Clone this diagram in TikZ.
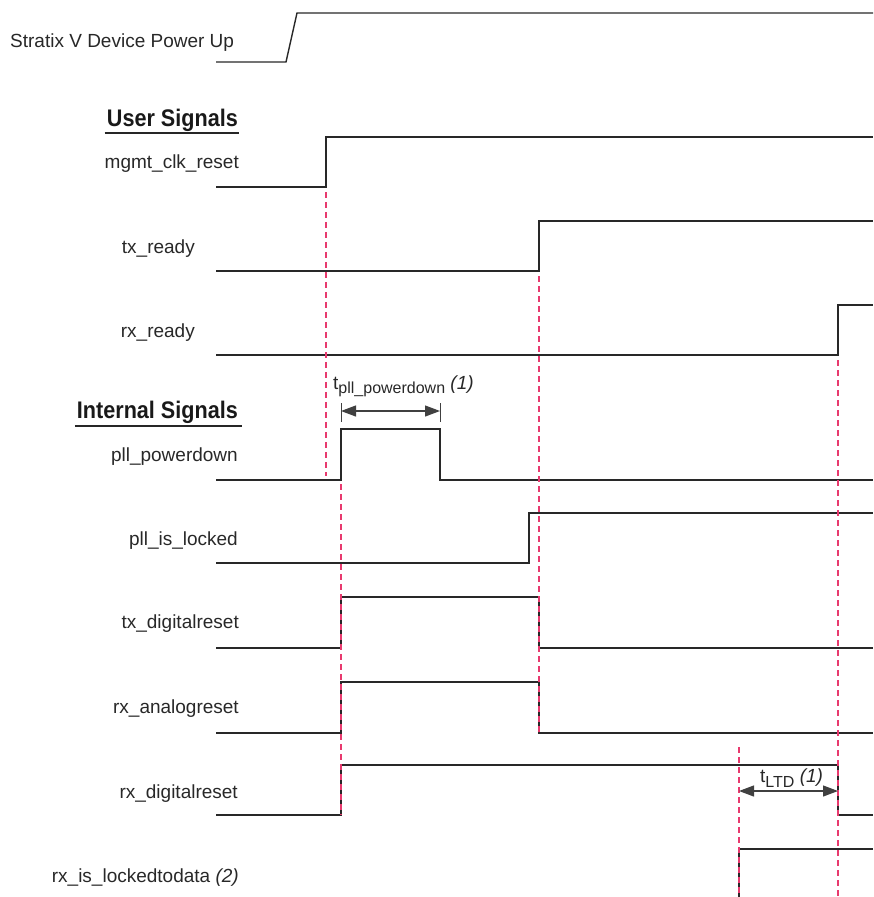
\documentclass[tikz,border=0pt]{standalone}
\usepackage{fontspec}
\setmainfont{Liberation Sans}
\newfontfamily\hdrfont[FakeStretch=0.9]{Liberation Sans Bold}
\usetikzlibrary{arrows.meta}
\definecolor{sigcol}{RGB}{40,40,40}
\definecolor{markred}{RGB}{232,58,110}
\begin{document}
\begin{tikzpicture}[x=1pt,y=-1pt,
 sig/.style={draw=sigcol,line width=1.4pt,line join=miter},
 guide/.style={draw=markred,line width=1.4pt,dash pattern=on 6pt off 4pt},
 lbl/.style={anchor=base east,inner sep=0pt,font=\fontsize{19}{22}\selectfont,text=sigcol},
 hdr/.style={anchor=base east,inner sep=0pt,font=\hdrfont\fontsize{24}{28}\selectfont,text=black!90},
 note/.style={anchor=base west,inner sep=0pt,font=\fontsize{19}{22}\selectfont,text=sigcol},
 dim/.style={draw=black!75,line width=1.2pt,{Triangle[length=15pt,width=11pt]}-{Triangle[length=15pt,width=11pt]}},
 dimtick/.style={draw=black!75,line width=1pt},
 uline/.style={draw=black!85,line width=1.6pt}
]
\useasboundingbox (0,0) rectangle (873,897);

% labels
\node[note] (pwr) at (10,47) {Stratix V Device Power Up};
\node[hdr] (us) at (238,126) {User Signals};
\draw[uline] ([xshift=-2pt,yshift=-7pt]us.base west) -- ([xshift=1pt,yshift=-7pt]us.base east);
\node[lbl] (l1) at (239,168) {mgmt\_clk\_reset};
\node[lbl] (l2) at (195,253) {tx\_ready};
\node[lbl] (l3) at (195,337) {rx\_ready};
\node[hdr] (is) at (238,418) {Internal Signals};
\draw[uline] ([xshift=-2pt,yshift=-8pt]is.base west) -- ([xshift=4pt,yshift=-8pt]is.base east);
\node[lbl] (l4) at (238,461) {pll\_powerdown};
\node[lbl] (l5) at (238,545) {pll\_is\_locked};
\node[lbl] (l6) at (239,628) {tx\_digitalreset};
\node[lbl] (l7) at (239,713) {rx\_analogreset};
\node[lbl] (l8) at (238,798) {rx\_digitalreset};
\node[lbl] (l9) at (239,882) {rx\_is\_lockedtodata \textit{(2)}};

% waveforms
\draw[sig] (216,62) -- (286,62) -- (297,13) -- (873,13);
\draw[sig] (216,187) -- (326,187) -- (326,137) -- (873,137);
\draw[sig] (216,271) -- (539,271) -- (539,221) -- (873,221);
\draw[sig] (216,355) -- (838,355) -- (838,305) -- (873,305);
\draw[sig] (216,480) -- (341,480) -- (341,429) -- (440,429) -- (440,480) -- (873,480);
\draw[sig] (216,563) -- (529,563) -- (529,513) -- (873,513);
\draw[sig] (216,648) -- (341,648) -- (341,597) -- (539,597) -- (539,648) -- (873,648);
\draw[sig] (216,733) -- (341,733) -- (341,682) -- (539,682) -- (539,733) -- (873,733);
\draw[sig] (216,815) -- (341,815) -- (341,765) -- (838,765) -- (838,815) -- (873,815);
\draw[sig] (739,897) -- (739,849) -- (873,849);

% guides
\draw[guide] (326,192) -- (326,476);
\draw[guide] (341,484) -- (341,815);
\draw[guide] (539,276) -- (539,735);
\draw[guide] (739,747) -- (739,897);
\draw[guide] (838,360) -- (838,897);

% timing annotations
\node[note] (tp) at (333,389) {t\raisebox{-4pt}{\fontsize{16}{18}\selectfont pll\_powerdown} \textit{(1)}};
\coordinate (pa) at (341,411);
\coordinate (pb) at (440,411);
\draw[dim] (pa) -- (pb);
\draw[dimtick] (341,403) -- (341,422);
\draw[dimtick] (440,403) -- (440,422);

\node[note] (tl) at (760,782) {t\raisebox{-5pt}{\fontsize{16}{18}\selectfont LTD} \textit{(1)}};
\coordinate (la) at (739,791);
\coordinate (lb) at (838,791);
\draw[dim] (la) -- (lb);
\end{tikzpicture}
\end{document}
